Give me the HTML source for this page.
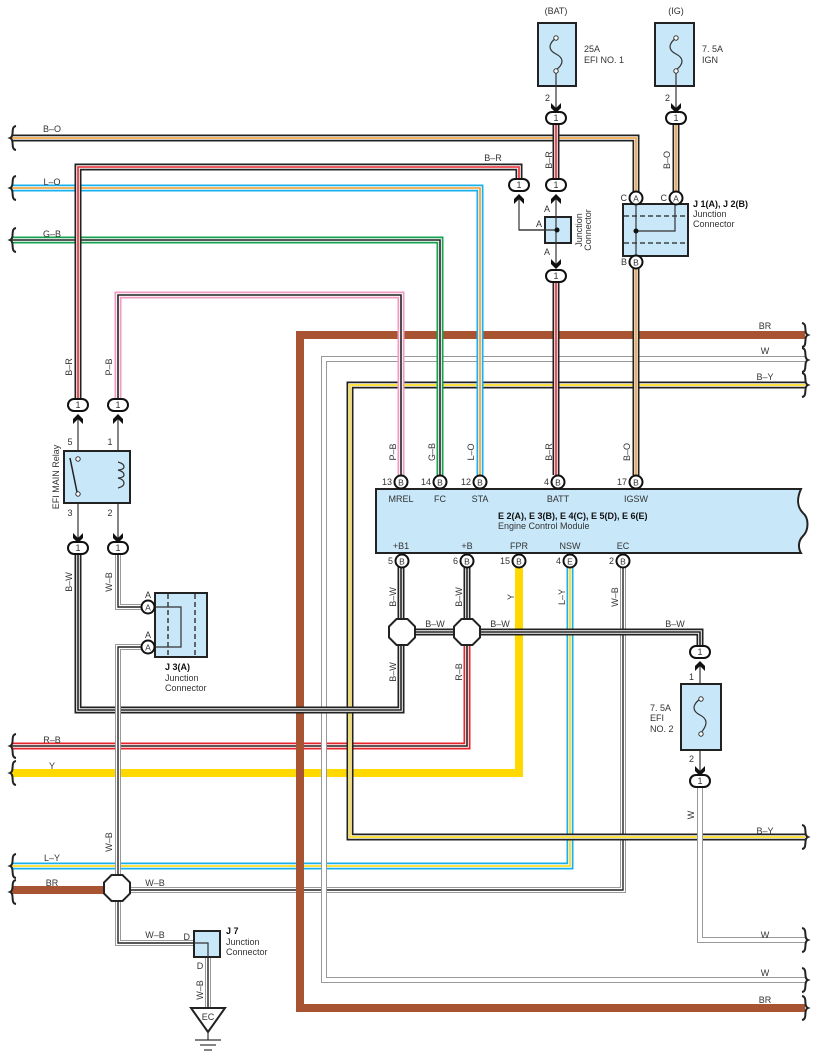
<!DOCTYPE html>
<html><head><meta charset="utf-8"><style>
html,body{margin:0;padding:0;background:#fff}
svg{display:block}
text{font-family:"Liberation Sans",sans-serif;font-size:9px;fill:#333}
.bd{font-weight:bold;fill:#111}
polyline{fill:none;stroke-linejoin:miter;stroke-linecap:butt}
.o7{stroke-width:7}
.w4{stroke:#fff;stroke-width:3.6}
.s2{stroke-width:1.6}
.k{stroke:#222}.r{stroke:#e8252b}.or{stroke:#f39a2a}.bl{stroke:#19b0ec}.g{stroke:#17a050}.p{stroke:#f29ac0}.y{stroke:#ffd800}
.br{stroke:#a85432;stroke-width:8}
.yy{stroke:#ffd800;stroke-width:8}
.wg{stroke:#999;stroke-width:6}
.ww{stroke:#fff;stroke-width:4}
.wk{stroke:#222;stroke-width:1.4}
.box{fill:#c8e7f8;stroke:#222;stroke-width:2}
.thin{stroke:#333;stroke-width:1.2;fill:none}
.brace{fill:none;stroke:#222;stroke-width:2}
</style></head><body>
<svg width="818" height="1062" viewBox="0 0 818 1062" xmlns="http://www.w3.org/2000/svg">
<defs>
<g id="c1"><rect x="-10" y="-6" width="20" height="12" rx="6" fill="#fff" stroke="#111" stroke-width="2"/><text x="0" y="3.2" text-anchor="middle" style="font-size:9px">1</text></g>
<path id="dn" d="M-5,-7 L0,-2 L5,-7 L5,-2 L0,3 L-5,-2Z" fill="#111"/>
<path id="up" d="M-5,7 L0,2 L5,7 L5,2 L0,-3 L-5,2Z" fill="#111"/>
<path id="lb" d="M6,-12 C0,-11 5,-2 0,0 C5,2 0,11 6,12" class="brace"/>
<path id="rb" d="M-6,-12 C0,-11 -5,-2 0,0 C-5,2 0,11 -6,12" class="brace"/>
<polygon id="oct" points="-5.5,-13 5.5,-13 13,-5.5 13,5.5 5.5,13 -5.5,13 -13,5.5 -13,-5.5" fill="#fff" stroke="#222" stroke-width="2"/>
</defs>

<!-- left horizontal wires lower -->
<polyline points="467,632 467,746 12,746" class="o7 r"/><polyline points="467,632 467,746 12,746" class="w4"/><polyline points="467,632 467,746 12,746" class="s2 k"/>
<polyline points="519,567 519,773 12,773" class="yy"/>
<polyline points="570,567 570,866 12,866" class="o7 bl"/><polyline points="570,567 570,866 12,866" class="w4"/><polyline points="570,567 570,866 12,866" class="s2 y"/>
<polyline points="623,567 623,890 118,890" class="wg"/><polyline points="623,567 623,890 118,890" class="ww"/><polyline points="623,567 623,890 118,890" class="wk"/>
<polyline points="12,890 118,890" class="br"/>

<!-- loops -->
<polyline points="805,335 300,335 300,1008 805,1008" class="br"/>
<polyline points="805,359 324,359 324,980 805,980" class="wg"/><polyline points="805,359 324,359 324,980 805,980" class="ww"/>
<polyline points="805,385 350,385 350,837 805,837" class="o7 k"/><polyline points="805,385 350,385 350,837 805,837" class="w4"/><polyline points="805,385 350,385 350,837 805,837" class="s2 y"/>

<!-- B-W -->
<polyline points="78,554 78,710 401,710 401,567" class="o7 k"/><polyline points="78,554 78,710 401,710 401,567" class="w4"/><polyline points="78,554 78,710 401,710 401,567" class="s2 k"/>
<polyline points="467,567 467,632" class="o7 k"/><polyline points="467,567 467,632" class="w4"/><polyline points="467,567 467,632" class="s2 k"/>
<polyline points="401,632 700,632 700,646" class="o7 k"/><polyline points="401,632 700,632 700,646" class="w4"/><polyline points="401,632 700,632 700,646" class="s2 k"/>
<polyline points="700,787 700,940 805,940" class="wg"/><polyline points="700,787 700,940 805,940" class="ww"/>

<!-- W-B left -->
<polyline points="118,554 118,607 141,607" class="wg"/><polyline points="118,554 118,607 141,607" class="ww"/><polyline points="118,554 118,607 141,607" class="wk"/>
<polyline points="141,647 118,647 118,943 194,943" class="wg"/><polyline points="141,647 118,647 118,943 194,943" class="ww"/><polyline points="141,647 118,647 118,943 194,943" class="wk"/>
<polyline points="208,957 208,1008" class="wg"/><polyline points="208,957 208,1008" class="ww"/><polyline points="208,957 208,1008" class="wk"/>

<!-- top wires -->
<polyline points="12,138 636,138 636,192" class="o7 k"/><polyline points="12,138 636,138 636,192" class="w4"/><polyline points="12,138 636,138 636,192" class="s2 or"/>
<polyline points="12,188 480,188 480,475" class="o7 bl"/><polyline points="12,188 480,188 480,475" class="w4"/><polyline points="12,188 480,188 480,475" class="s2 or"/>
<polyline points="12,240 440,240 440,475" class="o7 g"/><polyline points="12,240 440,240 440,475" class="w4"/><polyline points="12,240 440,240 440,475" class="s2 k"/>
<polyline points="118,399 118,295 401,295 401,475" class="o7 p"/><polyline points="118,399 118,295 401,295 401,475" class="w4"/><polyline points="118,399 118,295 401,295 401,475" class="s2 k"/>
<polyline points="78,399 78,167 519,167 519,178" class="o7 k"/><polyline points="78,399 78,167 519,167 519,178" class="w4"/><polyline points="78,399 78,167 519,167 519,178" class="s2 r"/>
<polyline points="556,124 556,178" class="o7 k"/><polyline points="556,124 556,178" class="w4"/><polyline points="556,124 556,178" class="s2 r"/>
<polyline points="556,282 556,475" class="o7 k"/><polyline points="556,282 556,475" class="w4"/><polyline points="556,282 556,475" class="s2 r"/>
<polyline points="676,124 676,192" class="o7 k"/><polyline points="676,124 676,192" class="w4"/><polyline points="676,124 676,192" class="s2 or"/>
<polyline points="636,268 636,475" class="o7 k"/><polyline points="636,268 636,475" class="w4"/><polyline points="636,268 636,475" class="s2 or"/>

<!-- braces -->
<use href="#lb" x="10" y="138"/><use href="#lb" x="10" y="188"/><use href="#lb" x="10" y="240"/>
<use href="#lb" x="10" y="746"/><use href="#lb" x="10" y="773"/><use href="#lb" x="10" y="866"/><use href="#lb" x="10" y="892"/>
<use href="#rb" x="808" y="335"/><use href="#rb" x="808" y="360"/><use href="#rb" x="808" y="385"/>
<use href="#rb" x="808" y="837"/><use href="#rb" x="808" y="940"/><use href="#rb" x="808" y="980"/><use href="#rb" x="808" y="1008"/>

<!-- fuses top -->
<text x="556" y="14" text-anchor="middle">(BAT)</text>
<rect x="538" y="23" width="38" height="63" class="box"/>
<path d="M556,38 C548,44 548,50 556,54 C564,58 564,64 556,70" class="thin"/>
<circle cx="556" cy="38" r="2.2" fill="#fff" stroke="#333"/><circle cx="556" cy="71" r="2.2" fill="#fff" stroke="#333"/>
<line x1="556" y1="73" x2="556" y2="110" class="thin"/>
<text x="584" y="52">25A</text><text x="584" y="63">EFI NO. 1</text>
<text x="550" y="101" text-anchor="end">2</text>
<use href="#dn" x="556" y="110"/><use href="#c1" x="556" y="118"/>

<text x="676" y="14" text-anchor="middle">(IG)</text>
<rect x="655" y="23" width="39" height="63" class="box"/>
<path d="M676,38 C668,44 668,50 676,54 C684,58 684,64 676,70" class="thin"/>
<circle cx="676" cy="38" r="2.2" fill="#fff" stroke="#333"/><circle cx="676" cy="71" r="2.2" fill="#fff" stroke="#333"/>
<line x1="676" y1="73" x2="676" y2="110" class="thin"/>
<text x="702" y="52">7. 5A</text><text x="702" y="63">IGN</text>
<text x="670" y="101" text-anchor="end">2</text>
<use href="#dn" x="676" y="110"/><use href="#c1" x="676" y="118"/>

<!-- junction connector -->
<use href="#c1" x="519" y="185"/><use href="#c1" x="556" y="185"/>
<polyline points="519,196 519,230 556,230" class="thin"/>
<line x1="556" y1="196" x2="556" y2="266" class="thin"/>
<use href="#up" x="519" y="197"/><use href="#up" x="556" y="197"/>
<rect x="545" y="217" width="26" height="26" class="box"/>
<line x1="519" y1="230" x2="556" y2="230" class="thin"/><line x1="556" y1="217" x2="556" y2="243" class="thin"/>
<circle cx="557" cy="230" r="2.5" fill="#111"/>
<text x="550" y="212" text-anchor="end">A</text><text x="542" y="227" text-anchor="end">A</text><text x="550" y="255" text-anchor="end">A</text>
<text transform="translate(582,230) rotate(-90)" text-anchor="middle" y="0">Junction</text>
<text transform="translate(591,230) rotate(-90)" text-anchor="middle" y="0">Connector</text>
<use href="#dn" x="556" y="266"/><use href="#c1" x="556" y="276"/>

<!-- J1 J2 -->
<rect x="623" y="204" width="65" height="52" class="box"/>
<line x1="624" y1="216" x2="687" y2="216" stroke="#222" stroke-dasharray="5,3" stroke-width="1.3"/>
<line x1="624" y1="243" x2="687" y2="243" stroke="#222" stroke-dasharray="5,3" stroke-width="1.3"/>
<line x1="636" y1="204" x2="636" y2="256" class="thin"/>
<polyline points="636,231 675,231 675,204" class="thin"/>
<circle cx="636" cy="231" r="2.5" fill="#111"/>
<g><circle cx="636" cy="198" r="6.5" fill="#fff" stroke="#111" stroke-width="2"/><text x="636" y="201.5" text-anchor="middle" style="font-size:8.5px">A</text></g>
<g><circle cx="676" cy="198" r="6.5" fill="#fff" stroke="#111" stroke-width="2"/><text x="676" y="201.5" text-anchor="middle" style="font-size:8.5px">A</text></g>
<g><circle cx="636" cy="262" r="6.5" fill="#fff" stroke="#111" stroke-width="2"/><text x="636" y="265.5" text-anchor="middle" style="font-size:8.5px">B</text></g>
<text x="627" y="201" text-anchor="end">C</text><text x="667" y="201" text-anchor="end">C</text><text x="627" y="265" text-anchor="end">B</text>
<text x="693" y="207" class="bd">J 1(A), J 2(B)</text><text x="693" y="217">Junction</text><text x="693" y="227">Connector</text>

<!-- relay -->
<use href="#c1" x="78" y="405"/><use href="#c1" x="118" y="405"/>
<line x1="78" y1="415" x2="78" y2="541" class="thin"/><line x1="118" y1="415" x2="118" y2="541" class="thin"/>
<use href="#up" x="78" y="417"/><use href="#up" x="118" y="417"/>
<rect x="64" y="451" width="66" height="52" class="box"/>
<circle cx="78" cy="459" r="2.2" fill="#fff" stroke="#333"/><circle cx="78" cy="494" r="2.2" fill="#fff" stroke="#333"/>
<line x1="70" y1="458" x2="77" y2="492" stroke="#222" stroke-width="1.5"/>
<path d="M118,462 C126,464 126,470 118,470 C126,472 126,478 118,478 C126,480 126,486 118,488" class="thin" fill="#c8e7f8"/>
<text x="70" y="445" text-anchor="middle">5</text><text x="110" y="445" text-anchor="middle">1</text>
<text x="70" y="516" text-anchor="middle">3</text><text x="110" y="516" text-anchor="middle">2</text>
<text transform="translate(59,477) rotate(-90)" text-anchor="middle">EFI MAIN Relay</text>
<use href="#dn" x="78" y="540"/><use href="#dn" x="118" y="540"/>
<use href="#c1" x="78" y="548"/><use href="#c1" x="118" y="548"/>

<!-- J3 -->
<rect x="155" y="593" width="52" height="64" class="box"/>
<line x1="168" y1="594" x2="168" y2="656" stroke="#222" stroke-dasharray="5,3" stroke-width="1.3"/>
<line x1="195" y1="594" x2="195" y2="656" stroke="#222" stroke-dasharray="5,3" stroke-width="1.3"/>
<polyline points="155,607 181,607 181,647 155,647" class="thin"/>
<g><circle cx="148" cy="607" r="6.5" fill="#fff" stroke="#111" stroke-width="2"/><text x="148" y="610.5" text-anchor="middle" style="font-size:8.5px">A</text></g>
<g><circle cx="148" cy="647" r="6.5" fill="#fff" stroke="#111" stroke-width="2"/><text x="148" y="650.5" text-anchor="middle" style="font-size:8.5px">A</text></g>
<text x="148" y="598" text-anchor="middle">A</text><text x="148" y="638" text-anchor="middle">A</text>
<text x="165" y="670" class="bd">J 3(A)</text><text x="165" y="681">Junction</text><text x="165" y="691">Connector</text>

<!-- ECM -->
<path d="M376,489 L801,489 C796,500 798,508 803,513 C809,518 809,530 803,536 C798,541 798,548 801,553 L376,553 Z" class="box"/>
<g style="font-size:9px">
<text x="401" y="502" text-anchor="middle">MREL</text><text x="440" y="502" text-anchor="middle">FC</text><text x="480" y="502" text-anchor="middle">STA</text><text x="558" y="502" text-anchor="middle">BATT</text><text x="636" y="502" text-anchor="middle">IGSW</text>
<text x="498" y="519" class="bd">E 2(A), E 3(B), E 4(C), E 5(D), E 6(E)</text>
<text x="498" y="529">Engine Control Module</text>
<text x="401" y="549" text-anchor="middle">+B1</text><text x="467" y="549" text-anchor="middle">+B</text><text x="519" y="549" text-anchor="middle">FPR</text><text x="570" y="549" text-anchor="middle">NSW</text><text x="623" y="549" text-anchor="middle">EC</text>
</g>
<g>
<circle cx="401" cy="482" r="6.5" fill="#fff" stroke="#111" stroke-width="2"/><text x="401" y="485.5" text-anchor="middle" style="font-size:8.5px">B</text>
<circle cx="440" cy="482" r="6.5" fill="#fff" stroke="#111" stroke-width="2"/><text x="440" y="485.5" text-anchor="middle" style="font-size:8.5px">B</text>
<circle cx="480" cy="482" r="6.5" fill="#fff" stroke="#111" stroke-width="2"/><text x="480" y="485.5" text-anchor="middle" style="font-size:8.5px">B</text>
<circle cx="558" cy="482" r="6.5" fill="#fff" stroke="#111" stroke-width="2"/><text x="558" y="485.5" text-anchor="middle" style="font-size:8.5px">B</text>
<circle cx="636" cy="482" r="6.5" fill="#fff" stroke="#111" stroke-width="2"/><text x="636" y="485.5" text-anchor="middle" style="font-size:8.5px">B</text>
<text x="392" y="485" text-anchor="end">13</text><text x="431" y="485" text-anchor="end">14</text><text x="471" y="485" text-anchor="end">12</text><text x="549" y="485" text-anchor="end">4</text><text x="627" y="485" text-anchor="end">17</text>
<circle cx="402" cy="561" r="6.5" fill="#fff" stroke="#111" stroke-width="2"/><text x="402" y="564.5" text-anchor="middle" style="font-size:8.5px">B</text>
<circle cx="467" cy="561" r="6.5" fill="#fff" stroke="#111" stroke-width="2"/><text x="467" y="564.5" text-anchor="middle" style="font-size:8.5px">B</text>
<circle cx="519" cy="561" r="6.5" fill="#fff" stroke="#111" stroke-width="2"/><text x="519" y="564.5" text-anchor="middle" style="font-size:8.5px">B</text>
<circle cx="570" cy="561" r="6.5" fill="#fff" stroke="#111" stroke-width="2"/><text x="570" y="564.5" text-anchor="middle" style="font-size:8.5px">E</text>
<circle cx="623" cy="561" r="6.5" fill="#fff" stroke="#111" stroke-width="2"/><text x="623" y="564.5" text-anchor="middle" style="font-size:8.5px">B</text>
<text x="393" y="564" text-anchor="end">5</text><text x="458" y="564" text-anchor="end">6</text><text x="510" y="564" text-anchor="end">15</text><text x="561" y="564" text-anchor="end">4</text><text x="614" y="564" text-anchor="end">2</text>
</g>

<!-- splices -->
<use href="#oct" x="402" y="632"/><use href="#oct" x="467" y="632"/><use href="#oct" x="117" y="888"/>

<!-- EFI NO.2 -->
<use href="#c1" x="700" y="652"/>
<line x1="700" y1="662" x2="700" y2="773" class="thin"/>
<use href="#up" x="700" y="664"/>
<rect x="681" y="684" width="40" height="66" class="box"/>
<path d="M700,699 C692,705 692,711 700,715 C708,719 708,725 700,734" class="thin"/>
<circle cx="701" cy="699" r="2.2" fill="#fff" stroke="#333"/><circle cx="701" cy="734" r="2.2" fill="#fff" stroke="#333"/>
<text x="694" y="680" text-anchor="end">1</text><text x="694" y="762" text-anchor="end">2</text>
<text x="650" y="711">7. 5A</text><text x="650" y="721">EFI</text><text x="650" y="732">NO. 2</text>
<use href="#dn" x="700" y="773"/><use href="#c1" x="700" y="781"/>

<!-- J7 + ground -->
<rect x="194" y="931" width="26" height="26" class="box"/>
<polyline points="194,943 208,943 208,957" class="thin"/>
<text x="190" y="940" text-anchor="end">D</text><text x="200" y="969" text-anchor="middle">D</text>
<text x="226" y="934" class="bd">J 7</text><text x="226" y="945">Junction</text><text x="226" y="955">Connector</text>
<polygon points="191,1008 225,1008 208,1032" fill="#fff" stroke="#222" stroke-width="2"/>
<text x="208" y="1020" text-anchor="middle">EC</text>
<line x1="208" y1="1032" x2="208" y2="1040" class="thin"/>
<line x1="195" y1="1040" x2="221" y2="1040" class="thin"/><line x1="200" y1="1045" x2="216" y2="1045" class="thin"/><line x1="204" y1="1050" x2="212" y2="1050" class="thin"/>

<!-- horizontal labels -->
<g>
<text x="52" y="132" text-anchor="middle">B–O</text><text x="52" y="185" text-anchor="middle">L–O</text><text x="52" y="237" text-anchor="middle">G–B</text>
<text x="493" y="161" text-anchor="middle">B–R</text>
<text x="765" y="329" text-anchor="middle">BR</text><text x="765" y="354" text-anchor="middle">W</text><text x="765" y="380" text-anchor="middle">B–Y</text>
<text x="435" y="627" text-anchor="middle">B–W</text><text x="500" y="627" text-anchor="middle">B–W</text><text x="675" y="627" text-anchor="middle">B–W</text>
<text x="52" y="743" text-anchor="middle">R–B</text><text x="52" y="769" text-anchor="middle">Y</text>
<text x="52" y="861" text-anchor="middle">L–Y</text><text x="52" y="886" text-anchor="middle">BR</text>
<text x="155" y="886" text-anchor="middle">W–B</text><text x="155" y="938" text-anchor="middle">W–B</text>
<text x="765" y="834" text-anchor="middle">B–Y</text><text x="765" y="938" text-anchor="middle">W</text><text x="765" y="976" text-anchor="middle">W</text><text x="765" y="1003" text-anchor="middle">BR</text>
</g>
<!-- vertical labels -->
<g>
<text transform="translate(72,367) rotate(-90)" text-anchor="middle">B–R</text>
<text transform="translate(112,367) rotate(-90)" text-anchor="middle">P–B</text>
<text transform="translate(72,582) rotate(-90)" text-anchor="middle">B–W</text>
<text transform="translate(112,582) rotate(-90)" text-anchor="middle">W–B</text>
<text transform="translate(552,160) rotate(-90)" text-anchor="middle">B–R</text>
<text transform="translate(670,160) rotate(-90)" text-anchor="middle">B–O</text>
<text transform="translate(396,452) rotate(-90)" text-anchor="middle">P–B</text>
<text transform="translate(435,452) rotate(-90)" text-anchor="middle">G–B</text>
<text transform="translate(474,452) rotate(-90)" text-anchor="middle">L–O</text>
<text transform="translate(552,452) rotate(-90)" text-anchor="middle">B–R</text>
<text transform="translate(630,452) rotate(-90)" text-anchor="middle">B–O</text>
<text transform="translate(396,597) rotate(-90)" text-anchor="middle">B–W</text>
<text transform="translate(462,597) rotate(-90)" text-anchor="middle">B–W</text>
<text transform="translate(514,597) rotate(-90)" text-anchor="middle">Y</text>
<text transform="translate(565,597) rotate(-90)" text-anchor="middle">L–Y</text>
<text transform="translate(618,597) rotate(-90)" text-anchor="middle">W–B</text>
<text transform="translate(396,672) rotate(-90)" text-anchor="middle">B–W</text>
<text transform="translate(462,672) rotate(-90)" text-anchor="middle">R–B</text>
<text transform="translate(112,842) rotate(-90)" text-anchor="middle">W–B</text>
<text transform="translate(203,990) rotate(-90)" text-anchor="middle">W–B</text>
<text transform="translate(694,815) rotate(-90)" text-anchor="middle">W</text>
</g>
</svg>
</body></html>
